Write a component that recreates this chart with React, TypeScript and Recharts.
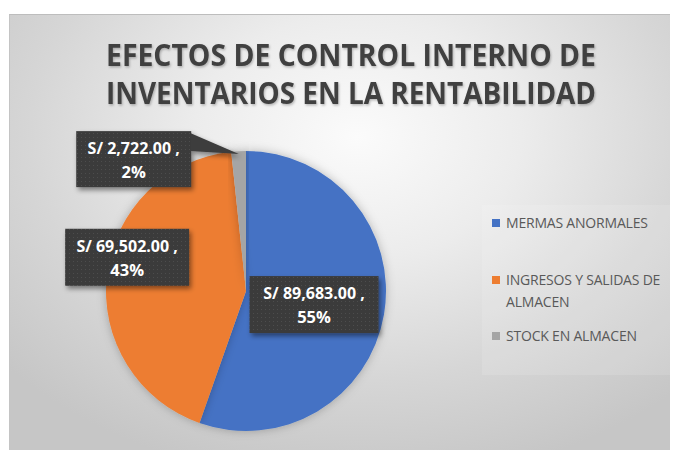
import React from 'react';
import { PieChart, Pie, Cell, Customized } from 'recharts';

// ---- data ----
const categories = ['MERMAS ANORMALES', 'INGRESOS Y SALIDAS DE ALMACEN', 'STOCK EN ALMACEN'];
const values = [89683, 69502, 2722];
const titleLines = ['EFECTOS DE CONTROL INTERNO DE', 'INVENTARIOS EN LA RENTABILIDAD'];
const legendLines = [['MERMAS ANORMALES'], ['INGRESOS Y SALIDAS DE', 'ALMACEN'], ['STOCK EN ALMACEN']];
const colors = ['#4472C4', '#ED7D31', '#A5A5A5'];

const data = categories.map((name, i) => ({ name, value: values[i] }));

// ---- layout (label box placement relative to pie centre, in radius units) ----
const LABEL_LAYOUT = [
  { dx: 0.486, dy: 0.097, w: 129, h: 57, callout: false },
  { dx: -0.849, dy: -0.241, w: 124, h: 57, callout: false },
  { dx: -0.802, dy: -0.942, w: 115, h: 56, callout: true },
];

const W = 670;
const H = 442;

const fmtMoney = (v: number) =>
  'S/ ' + v.toLocaleString('en-US', { minimumFractionDigits: 2, maximumFractionDigits: 2 }) + ' ,';

const renderLabel = (props: any) => {
  const { cx, cy, outerRadius, midAngle, percent, value, index } = props;
  const L = LABEL_LAYOUT[index];
  const bx = cx + L.dx * outerRadius;
  const by = cy + L.dy * outerRadius;
  const x0 = bx - L.w / 2;
  const y0 = by - L.h / 2;
  let callout: any = null;
  if (L.callout) {
    const rad = (Math.PI / 180) * midAngle;
    const px = cx + outerRadius * 0.98 * Math.cos(rad);
    const py = cy - outerRadius * 0.98 * Math.sin(rad);
    callout = (
      <polygon
        points={`${x0 + L.w - 1},${y0 + 2} ${x0 + L.w - 1},${y0 + 20} ${px},${py}`}
        fill="#3d3d3d"
      />
    );
  }
  return (
    <g>
      <g filter="url(#boxShadow)">
        {callout}
        <rect x={x0} y={y0} width={L.w} height={L.h} fill="url(#dots)" />
      </g>
      <text
        x={bx}
        y={y0 + 23}
        textAnchor="middle"
        fill="#ffffff"
        fontFamily="'Open Sans', sans-serif"
        fontWeight={700}
        fontSize={16}
      >
        {fmtMoney(value)}
      </text>
      <text
        x={bx}
        y={y0 + 47}
        textAnchor="middle"
        fill="#ffffff"
        fontFamily="'Open Sans', sans-serif"
        fontWeight={700}
        fontSize={16.5}
      >
        {Math.round(percent * 100) + '%'}
      </text>
    </g>
  );
};

const Defs = () => (
  <defs>
    <pattern id="dots" width="4" height="4" patternUnits="userSpaceOnUse">
      <rect width="4" height="4" fill="#3b3b3b" />
      <rect x="1" y="1" width="1" height="1" fill="#4e4e4e" />
    </pattern>
    <filter id="boxShadow" x="-20%" y="-20%" width="150%" height="160%">
      <feDropShadow dx="2" dy="3" stdDeviation="2.5" floodColor="#000" floodOpacity="0.45" />
    </filter>
    <filter id="titleShadow" x="-5%" y="-30%" width="110%" height="160%">
      <feDropShadow dx="1" dy="1.5" stdDeviation="1" floodColor="#000" floodOpacity="0.25" />
    </filter>
    <filter id="pieShadow" x="-20%" y="-20%" width="140%" height="140%">
      <feDropShadow dx="0" dy="0" stdDeviation="5" floodColor="#000" floodOpacity="0.25" />
    </filter>
  </defs>
);

const Title = () => (
  <g filter="url(#titleShadow)">
    {titleLines.map((t, i) => (
      <text
        key={i}
        x={343}
        y={58 + i * 38}
        textAnchor="middle"
        fill="#404040"
        fontFamily="'Open Sans', sans-serif"
        fontWeight={700}
        fontSize={29.5}
        textLength={490}
        lengthAdjust="spacingAndGlyphs"
      >
        {t}
      </text>
    ))}
  </g>
);

const LegendBox = () => {
  const rowStarts = [215, 272, 328];
  return (
    <g>
      <rect x={474} y={197} width={196} height={170} fill="#ffffff" opacity={0.12} />
      {categories.map((c, i) => (
        <g key={c}>
          <rect x={484} y={rowStarts[i] - 4} width={8} height={8} fill={colors[i]} />
          {legendLines[i].map((ln, j) => (
            <text
              key={j}
              x={498}
              y={rowStarts[i] + 5 + j * 22}
              fill="#595959"
              fontFamily="'Open Sans', sans-serif"
              fontSize={14}
              letterSpacing={-0.2}
            >
              {ln}
            </text>
          ))}
        </g>
      ))}
    </g>
  );
};

export default function App() {
  return (
    <div style={{ position: 'relative', width: W, height: H }}>
      <div
        style={{
          position: 'absolute',
          left: 1,
          top: 6,
          width: W - 1,
          height: H - 6,
          borderTop: '1px solid #bdbdbd',
          borderLeft: '1px solid #c4c4c4',
          boxSizing: 'border-box',
          background:
            'radial-gradient(ellipse 70% 80% at 52% 28%, #fbfbfb 0%, #ececec 35%, #d6d6d6 70%, #c6c6c6 100%)',
        }}
      />
      <div style={{ position: 'absolute', left: 0, top: 0 }}>
        <PieChart width={W} height={H} margin={{ top: 0, right: 0, bottom: 0, left: 0 }}>
          <Customized component={Defs} />
          <Customized component={Title} />
          <Pie
            data={data}
            dataKey="value"
            nameKey="name"
            cx={238}
            cy={283}
            outerRadius={140}
            startAngle={90}
            endAngle={-270}
            stroke="none"
            labelLine={false}
            label={renderLabel}
            isAnimationActive={false}
            style={{ filter: 'url(#pieShadow)' }}
          >
            {data.map((d, i) => (
              <Cell key={d.name} fill={colors[i]} />
            ))}
          </Pie>
          <Customized component={LegendBox} />
        </PieChart>
      </div>
    </div>
  );
}
